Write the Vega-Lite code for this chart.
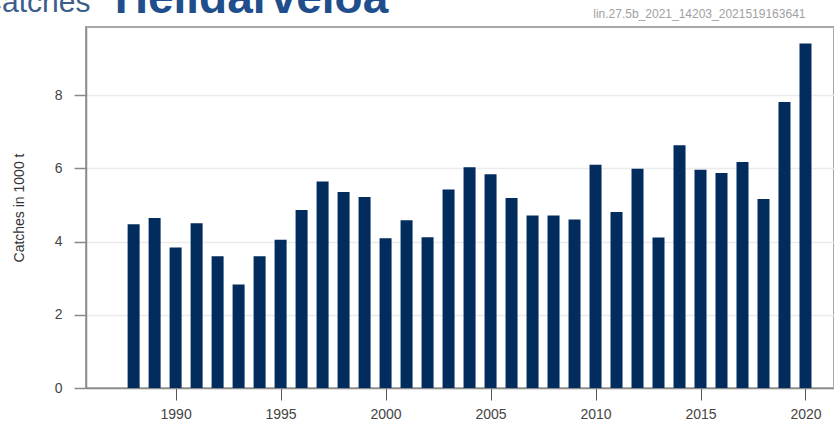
{
  "$schema": "https://vega.github.io/schema/vega-lite/v6.json",
  "width": 748,
  "height": 361,
  "autosize": {"type": "none"},
  "padding": {"left": 86, "top": 27, "right": 0, "bottom": 36},
  "background": "white",
  "config": {
    "view": {"stroke": "#a8a8a8", "strokeWidth": 2},
    "font": "Liberation Sans"
  },
  "datasets": {
    "catches": [
      {"year": 1988, "catch": 4.47}, {"year": 1989, "catch": 4.64}, {"year": 1990, "catch": 3.84},
      {"year": 1991, "catch": 4.50}, {"year": 1992, "catch": 3.60}, {"year": 1993, "catch": 2.83},
      {"year": 1994, "catch": 3.60}, {"year": 1995, "catch": 4.05}, {"year": 1996, "catch": 4.86},
      {"year": 1997, "catch": 5.64}, {"year": 1998, "catch": 5.35}, {"year": 1999, "catch": 5.22},
      {"year": 2000, "catch": 4.09}, {"year": 2001, "catch": 4.58}, {"year": 2002, "catch": 4.12},
      {"year": 2003, "catch": 5.42}, {"year": 2004, "catch": 6.03}, {"year": 2005, "catch": 5.84},
      {"year": 2006, "catch": 5.19}, {"year": 2007, "catch": 4.71}, {"year": 2008, "catch": 4.71},
      {"year": 2009, "catch": 4.60}, {"year": 2010, "catch": 6.10}, {"year": 2011, "catch": 4.81},
      {"year": 2012, "catch": 5.99}, {"year": 2013, "catch": 4.11}, {"year": 2014, "catch": 6.63},
      {"year": 2015, "catch": 5.96}, {"year": 2016, "catch": 5.87}, {"year": 2017, "catch": 6.17},
      {"year": 2018, "catch": 5.16}, {"year": 2019, "catch": 7.81}, {"year": 2020, "catch": 9.41}
    ],
    "labels": [{"t": 1}]
  },
  "layer": [
    {
      "data": {"name": "catches"},
      "mark": {"type": "bar", "size": 12, "color": "#022b5e"},
      "encoding": {
        "x": {
          "field": "year", "type": "quantitative",
          "scale": {"domain": [1985.97, 2021.12], "nice": false, "zero": false},
          "axis": {
            "values": [1990, 1995, 2000, 2005, 2010, 2015, 2020],
            "format": "d", "title": null, "grid": false,
            "domainColor": "#8a8a8a", "domainWidth": 1.5,
            "tickColor": "#555", "tickSize": 12, "tickWidth": 1,
            "labelFontSize": 14, "labelColor": "#444", "labelPadding": 7,
            "labelFont": "Liberation Sans"
          }
        },
        "y": {
          "field": "catch", "type": "quantitative",
          "scale": {"domain": [0, 9.86], "nice": false},
          "axis": {
            "values": [0, 2, 4, 6, 8],
            "title": "Catches in 1000 t",
            "titleFontSize": 14, "titleFontWeight": "normal", "titleColor": "#333",
            "titlePadding": 28,
            "grid": true, "gridColor": "#ebebeb", "gridWidth": 1.5,
            "domainColor": "#8a8a8a", "domainWidth": 1.5,
            "tickColor": "#888", "tickSize": 12, "tickWidth": 1.5,
            "labelFontSize": 14, "labelColor": "#444", "labelPadding": 12
          }
        }
      }
    },
    {
      "data": {"name": "labels"},
      "mark": {"type": "text", "text": "Heildarveiða", "align": "left", "baseline": "alphabetic",
               "fontSize": 46, "fontWeight": "bold", "color": "#1f4e8c", "font": "Liberation Sans"},
      "encoding": {
        "x": {"datum": 1987.1, "type": "quantitative", "scale": {"domain": [1985.97, 2021.12], "nice": false, "zero": false}},
        "y": {"datum": 10.24, "type": "quantitative", "scale": {"domain": [0, 9.86], "nice": false}}
      }
    },
    {
      "data": {"name": "labels"},
      "mark": {"type": "text", "text": "Catches", "align": "left", "baseline": "alphabetic",
               "fontSize": 30, "color": "#3b5f8a", "font": "Liberation Sans"},
      "encoding": {
        "x": {"datum": 1980.7, "type": "quantitative", "scale": {"domain": [1985.97, 2021.12], "nice": false, "zero": false}},
        "y": {"datum": 10.27, "type": "quantitative", "scale": {"domain": [0, 9.86], "nice": false}}
      }
    },
    {
      "data": {"name": "labels"},
      "mark": {"type": "text", "text": "lin.27.5b_2021_14203_2021519163641", "align": "right", "baseline": "alphabetic",
               "fontSize": 12, "color": "#a0a0a0", "font": "Liberation Sans"},
      "encoding": {
        "x": {"datum": 2020, "type": "quantitative", "scale": {"domain": [1985.97, 2021.12], "nice": false, "zero": false}},
        "y": {"datum": 10.1, "type": "quantitative", "scale": {"domain": [0, 9.86], "nice": false}}
      }
    }
  ]
}
